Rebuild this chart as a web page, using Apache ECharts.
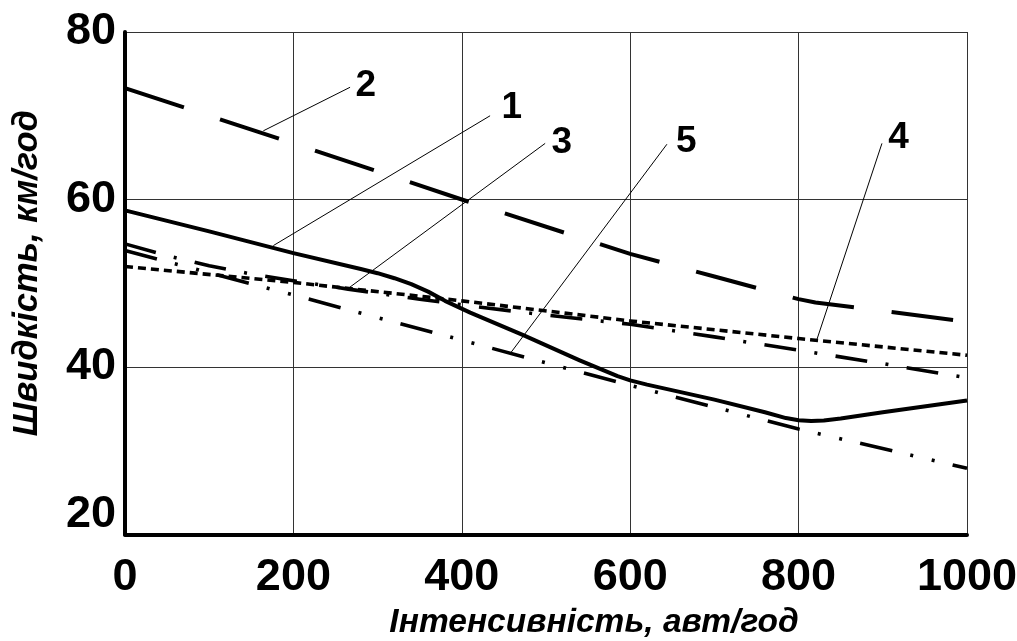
<!DOCTYPE html>
<html>
<head>
<meta charset="utf-8">
<script src="https://cdn.jsdelivr.net/npm/echarts@6/dist/echarts.min.js"></script>
<style>
  html, body { margin: 0; padding: 0; background: #fff; }
  #chart { width: 1017px; height: 641px; }
</style>
</head>
<body>
<div id="chart"></div>
<script>
// axis ticks
const xTicks = [0, 200, 400, 600, 800, 1000];
const yTicks = [20, 40, 60, 80];

// curve 1 - solid
const curve1X = [0, 100, 200, 280, 300, 320, 340, 360, 380, 410, 473, 540, 585, 600, 620, 700, 760, 785, 800, 815, 830, 850, 900, 1000];
const curve1Y = [58.7, 56.2, 53.6, 51.7, 51.2, 50.6, 49.9, 49.0, 47.9, 46.5, 43.8, 40.8, 38.9, 38.4, 37.9, 36.1, 34.6, 33.9, 33.65, 33.55, 33.6, 33.85, 34.6, 36.0];

// curve 2 - long dash
const curve2X = [0, 200, 400, 600, 700, 770, 800, 820, 900, 1000];
const curve2Y = [73.3, 66.7, 60.0, 53.5, 50.8, 48.9, 48.1, 47.7, 46.7, 45.4];

// curve 3 - dash dot
const curve3X = [0, 50, 100, 150, 200, 265, 350, 425, 500, 600, 700, 800, 900, 1000];
const curve3Y = [54.7, 53.3, 52.1, 51.1, 50.3, 49.3, 48.1, 47.1, 46.2, 45.1, 43.6, 42.0, 40.4, 38.7];

// curve 4 - short dashes
const curve4X = [0, 200, 400, 600, 800, 1000];
const curve4Y = [52.0, 50.1, 47.9, 45.5, 43.4, 41.4];

// curve 5 - dash dot dot
const curve5X = [0, 200, 400, 600, 800, 1000];
const curve5Y = [53.9, 48.6, 43.2, 37.8, 32.6, 27.9];

// curve numbers and their leader lines (data units)
const labelNames = ['1', '2', '3', '4', '5'];
const labelX = [459.4, 286, 518.8, 918.7, 666.5];
const labelY = [71.0, 73.6, 66.8, 67.4, 66.9];
const leaderFromX = [433.6, 267.3, 499, 899, 643.6];
const leaderFromY = [70.0, 73.4, 66.7, 66.7, 66.6];
const leaderToX = [176.2, 164.3, 265.3, 821.8, 457.4];
const leaderToY = [54.5, 68.2, 49.4, 43.3, 41.6];

const FONT = '"Liberation Sans", Arial, sans-serif';

function pairs(xs, ys) {
  return xs.map((x, i) => [x, ys[i]]);
}

function curve(name, xs, ys, dash, width) {
  return {
    name: name,
    type: 'line',
    data: pairs(xs, ys),
    showSymbol: false,
    smooth: false,
    silent: true,
    lineStyle: { color: '#000', width: width, type: dash, cap: 'butt', join: 'round' },
    z: 3
  };
}

let series = [
  curve('1', curve1X, curve1Y, 'solid', 4),
  curve('2', curve2X, curve2Y, [62, 38], 4),
  curve('3', curve3X, curve3Y, [32, 18.5, 3, 18.5], 3.6),
  curve('4', curve4X, curve4Y, [8, 5], 3.6),
  curve('5', curve5X, curve5Y, [33, 18.5, 3, 19, 3, 18.5], 3.6)
];

// thin leader lines
labelNames.forEach((n, i) => {
  series.push({
    type: 'line',
    data: [[leaderFromX[i], leaderFromY[i]], [leaderToX[i], leaderToY[i]]],
    showSymbol: false,
    silent: true,
    lineStyle: { color: '#000', width: 1 },
    z: 4
  });
});

// curve numbers
series.push({
  type: 'scatter',
  symbolSize: 1,
  silent: true,
  itemStyle: { color: '#000', opacity: 0 },
  data: labelNames.map((n, i) => ({ value: [labelX[i], labelY[i]], name: n })),
  label: {
    show: true,
    position: 'inside',
    formatter: p => p.name,
    color: '#000',
    opacity: 1,
    textBorderWidth: 0,
    fontFamily: FONT,
    fontWeight: 'bold',
    fontSize: 37
  },
  z: 5
});

const chart = echarts.init(document.getElementById('chart'));
chart.setOption({
  animation: false,
  backgroundColor: '#fff',
  grid: { left: 125, right: 50, top: 32, bottom: 106.5, outerBoundsMode: 'none', containLabel: false },
  xAxis: {
    type: 'value',
    min: xTicks[0],
    max: xTicks[xTicks.length - 1],
    interval: 200,
    name: 'Інтенсивність, авт/год',
    nameLocation: 'middle',
    nameGap: 64,
    nameTextStyle: {
      fontFamily: FONT, fontWeight: 'bold', fontStyle: 'italic',
      fontSize: 33.5, color: '#000', padding: [0, 0, 0, 96]
    },
    axisLine: { show: true, onZero: false, lineStyle: { color: '#000', width: 4 } },
    axisTick: { show: false },
    axisLabel: {
      margin: 21, color: '#000', fontFamily: FONT, fontWeight: 'bold', fontSize: 45,
      formatter: v => String(v)
    },
    splitLine: { show: true, lineStyle: { color: '#333', width: 1 } }
  },
  yAxis: {
    type: 'value',
    min: yTicks[0],
    max: yTicks[yTicks.length - 1],
    interval: 20,
    name: 'Швидкість, км/год',
    nameLocation: 'middle',
    nameGap: 80,
    nameTextStyle: {
      fontFamily: FONT, fontWeight: 'bold', fontStyle: 'italic',
      fontSize: 34.5, color: '#000', padding: [0, 0, 0, 20]
    },
    axisLine: { show: true, onZero: false, lineStyle: { color: '#000', width: 4 } },
    axisTick: { show: false },
    axisLabel: {
      margin: 9, color: '#000', fontFamily: FONT, fontWeight: 'bold', fontSize: 45,
      formatter: v => v === yTicks[0] ? '{low|' + v + '}' : String(v),
      rich: {
        low: {
          fontFamily: FONT, fontWeight: 'bold', fontSize: 45, color: '#000',
          padding: [0, 0, 39, 0]
        }
      }
    },
    splitLine: { show: true, lineStyle: { color: '#333', width: 1 } }
  },
  series: series
});
</script>
</body>
</html>
